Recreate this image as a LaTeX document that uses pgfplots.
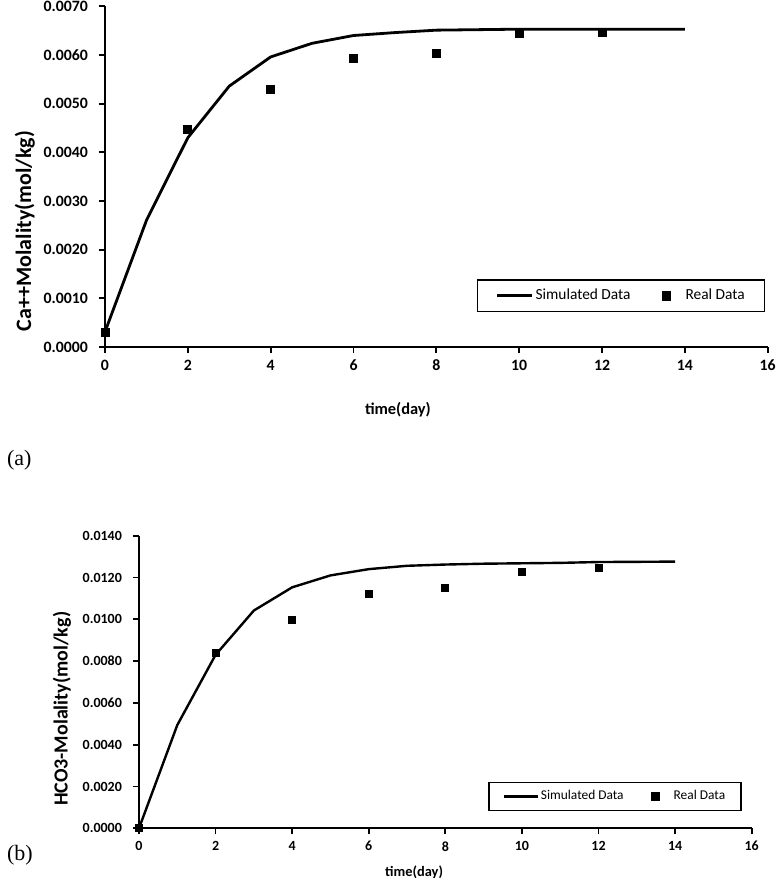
\documentclass[border=0pt]{standalone}
\usepackage{fontspec}
\setmainfont{Carlito}
\newfontfamily\serifA{Liberation Serif}
\usepackage{pgfplots}
\pgfplotsset{compat=1.18}
\pgfplotsset{
  excel/.style={
    scale only axis,
    anchor=south west,
    axis x line*=bottom, axis y line*=left,
    axis line style={line width=0.9pt,-},
    tick style={line width=0.9pt, black},
    tick align=outside,
    major tick length=3pt,
    scaled y ticks=false,
    xmin=0, xmax=16,
    xtick={0,2,4,6,8,10,12,14,16},
    yticklabel style={/pgf/number format/fixed, /pgf/number format/fixed zerofill, /pgf/number format/precision=4, /pgf/number format/assume math mode=true},
    xticklabel style={/pgf/number format/assume math mode=true},
    clip=false,
    legend columns=2,
    legend cell align=left,
  },
}
\begin{document}
\begin{tikzpicture}[x=1pt,y=1pt]
\path[use as bounding box] (0,0) rectangle (388.5,439);
% ---------------- (a)
\begin{axis}[excel,
  at={(52.5pt,265.5pt)}, width=331.35pt, height=170.35pt,
  ymin=0, ymax=0.007,
  ytick={0,0.001,0.002,0.003,0.004,0.005,0.006,0.007},
  ticklabel style={font=\bfseries\fontsize{7.9}{9}\selectfont},
  yticklabel style={xshift=-2pt},
  xlabel={time(day)},
  ylabel={Ca++Molality(mol/kg)},
  xlabel style={at={(axis description cs:0.442,-0.185)}, anchor=center, font=\bfseries\fontsize{8.2}{10}\selectfont},
  ylabel style={at={(axis description cs:-0.121,0.34)}, anchor=center, rotate=0, font=\bfseries\fontsize{11}{13}\selectfont},
  legend style={at={(0.779,0.150)}, anchor=center, draw=black, line width=0.7pt,
    font=\fontsize{7.7}{9}\selectfont, inner xsep=9pt, inner ysep=3.5pt,
    nodes={inner xsep=1pt, inner ysep=1pt},
    /tikz/every even column/.append style={column sep=15pt}},
]
\addplot[black, line width=1.4pt, line join=round, legend image code/.code={\draw[black,line width=1.4pt] (-17.5pt,0pt) -- (0pt,0pt);}] coordinates {
(0,0.00031) (1,0.0026) (2,0.0043) (3,0.00536) (4,0.00596) (5,0.00624) (6,0.0064) (7,0.00646) (8,0.00651) (9,0.00652) (10,0.00653) (11,0.00653) (12,0.00653) (13,0.00653) (14,0.00653)};
\addlegendentry{Simulated Data}
\addplot[only marks, mark=square*, mark size=2pt, black, legend image code/.code={\path[draw=none,fill=none] (-2pt,0pt) -- (8.5pt,0pt); \draw[black, only marks, mark=square*, mark size=2pt] plot coordinates {(0pt,0pt)};}] coordinates {
(0,0.00031) (2,0.00448) (4,0.0053) (6,0.00592) (8,0.00603) (10,0.00644) (12,0.00646)};
\addlegendentry{Real Data}
\end{axis}
\node[font=\serifA\fontsize{11}{13}\selectfont, anchor=west] at (0,209) {(a)};
% ---------------- (b)
\begin{axis}[excel,
  at={(69.5pt,24.85pt)}, width=306.35pt, height=146.3pt,
  ymin=0, ymax=0.014,
  ytick={0,0.002,0.004,0.006,0.008,0.010,0.012,0.014},
  ticklabel style={font=\bfseries\fontsize{7}{8}\selectfont},
  yticklabel style={xshift=-2pt},
  xlabel={time(day)},
  ylabel={HCO3-Molality(mol/kg)},
  xlabel style={at={(axis description cs:0.449,-0.149)}, anchor=center, font=\bfseries\fontsize{7.2}{9}\selectfont},
  ylabel style={at={(axis description cs:-0.126,0.408)}, anchor=center, rotate=0, font=\bfseries\fontsize{10}{12}\selectfont},
  legend style={at={(0.777,0.109)}, anchor=center, draw=black, line width=0.7pt,
    font=\fontsize{6.7}{8}\selectfont, inner xsep=7pt, inner ysep=3pt,
    nodes={inner xsep=1pt, inner ysep=1pt},
    /tikz/every even column/.append style={column sep=13pt}},
]
\addplot[black, line width=1.2pt, line join=round, legend image code/.code={\draw[black,line width=1.2pt] (-16.8pt,0pt) -- (0pt,0pt);}] coordinates {
(0,0.0) (1,0.00494) (2,0.0083) (3,0.01042) (4,0.01153) (5,0.01210) (6,0.01240) (7,0.01256) (8,0.01262) (9,0.01266) (10,0.01268) (11,0.0127) (12,0.01274) (13,0.01275) (14,0.01276)};
\addlegendentry{Simulated Data}
\addplot[only marks, mark=square*, mark size=1.75pt, black, legend image code/.code={\path[draw=none,fill=none] (-2pt,0pt) -- (8pt,0pt); \draw[black, only marks, mark=square*, mark size=1.75pt] plot coordinates {(0pt,0pt)};}] coordinates {
(0,0.0) (2,0.00837) (4,0.00997) (6,0.01121) (8,0.01148) (10,0.01225) (12,0.01247)};
\addlegendentry{Real Data}
\end{axis}
\node[font=\serifA\fontsize{11}{13}\selectfont, anchor=west] at (0,11.5) {(b)};
\end{tikzpicture}
\end{document}
